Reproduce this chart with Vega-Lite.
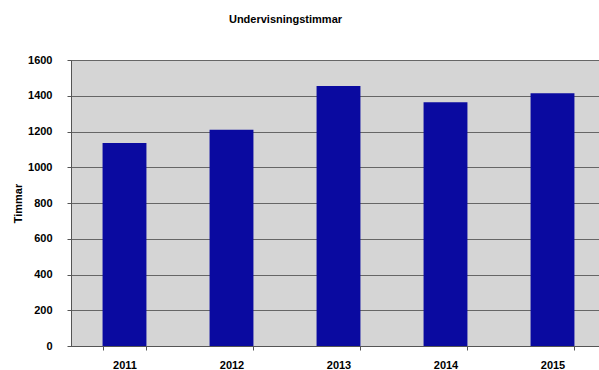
{
  "$schema": "https://vega.github.io/schema/vega-lite/v6.json",
  "autosize": "none",
  "width": 535,
  "height": 286,
  "padding": {"left": 71, "top": 60, "right": 0, "bottom": 24},
  "background": "#ffffff",
  "title": {
    "text": "Undervisningstimmar",
    "font": "Liberation Sans",
    "fontSize": 11,
    "fontWeight": "bold",
    "color": "#000000",
    "anchor": "middle",
    "dx": -53,
    "offset": 29
  },
  "data": {
    "values": [
      {"year": "2011", "timmar": 1135},
      {"year": "2012", "timmar": 1210},
      {"year": "2013", "timmar": 1455},
      {"year": "2014", "timmar": 1363},
      {"year": "2015", "timmar": 1414}
    ]
  },
  "mark": {"type": "bar", "color": "#0a0aa0"},
  "encoding": {
    "x": {
      "field": "year",
      "type": "nominal",
      "scale": {"paddingInner": 0.59, "paddingOuter": 0.295},
      "axis": {
        "title": null,
        "labelAngle": 0,
        "labelFont": "Liberation Sans",
        "labelFontSize": 11,
        "labelFontWeight": "bold",
        "labelColor": "#000000",
        "labelPadding": 9,
        "tickBand": "extent",
        "tickSize": 4,
        "tickColor": "#555555",
        "domainColor": "#555555",
        "grid": false
      }
    },
    "y": {
      "field": "timmar",
      "type": "quantitative",
      "scale": {"domain": [0, 1600], "nice": false},
      "axis": {
        "title": "Timmar",
        "titleFont": "Liberation Sans",
        "titleFontSize": 11,
        "titleFontWeight": "bold",
        "titleColor": "#000000",
        "titlePadding": 4,
        "format": "d",
        "values": [0, 200, 400, 600, 800, 1000, 1200, 1400, 1600],
        "labelFont": "Liberation Sans",
        "labelFontSize": 11,
        "labelFontWeight": "bold",
        "labelColor": "#000000",
        "labelPadding": 15,
        "tickSize": 4,
        "tickColor": "#555555",
        "domainColor": "#555555",
        "grid": true,
        "gridColor": "#666666",
        "gridWidth": 1
      }
    }
  },
  "config": {
    "view": {"fill": "#d5d5d5", "stroke": "#777777"}
  }
}
